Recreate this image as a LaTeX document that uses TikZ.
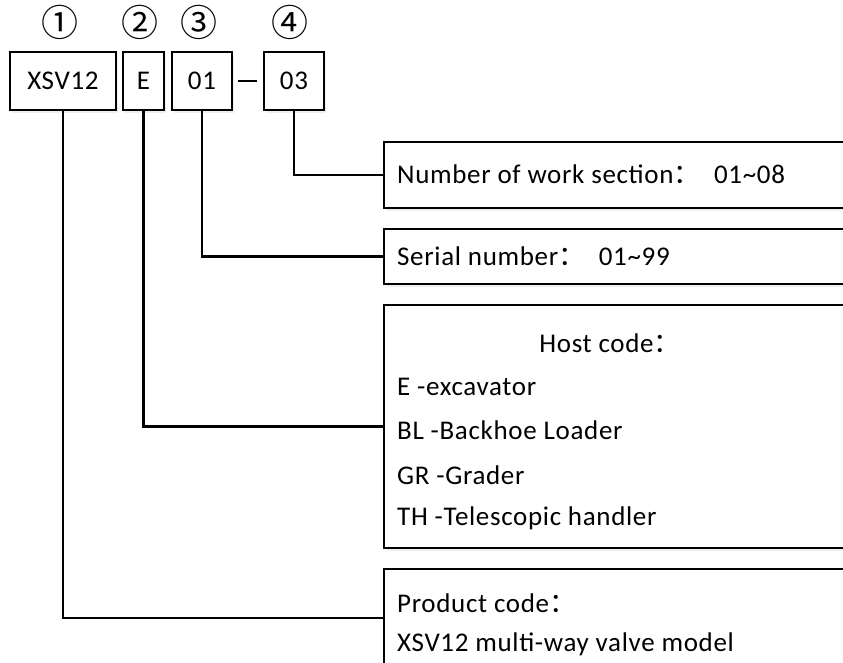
\documentclass[tikz,border=0pt]{standalone}
\usepackage{fontspec}
\setmainfont{Carlito}[LetterSpace=2.5]
\newfontfamily\cjk{Noto Sans CJK SC}
\usetikzlibrary{shadows}
\newcommand{\fcolon}{{\cjk ：}}
\begin{document}
\begin{tikzpicture}[x=1pt,y=-1pt,
  txtfont/.style={font=\fontsize{27}{32}\selectfont},
  box/.style={draw, line width=2pt, fill=white,
    drop shadow={opacity=0.12, shadow xshift=2pt, shadow yshift=-3pt}},
  codebox/.style={box, txtfont, minimum height=58pt, inner sep=0pt},
  infobox/.style={box, anchor=north west, minimum width=560pt, inner sep=0pt},
  lbl/.style={txtfont, anchor=base west, inner sep=0pt},
  num/.style={font=\cjk\fontsize{37}{37}\selectfont, inner sep=0pt},
  wire/.style={line width=2.2pt}]
\useasboundingbox (0,0) rectangle (843,663);
\clip (0,0) rectangle (843,663);
\fill[white] (0,0) rectangle (843,663);

% code boxes
\node[codebox, minimum width=106pt] (c1) at (63,81) {XSV12};
\node[codebox, minimum width=41pt] (c2) at (143.5,81) {E};
\node[codebox, minimum width=60pt] (c3) at (202,81) {01};
\node[codebox, minimum width=60pt] (c4) at (294,81) {03};

% circled numbers
\node[num] (n1) at (59.5,22) {①};
\node[num] (n2) at (140,22) {②};
\node[num] (n3) at (199,22) {③};
\node[num] (n4) at (290,22) {④};

% info boxes
\node[infobox, minimum height=66pt] (r4) at (383,141) {};
\node[infobox, minimum height=55pt] (r3) at (383,228) {};
\node[infobox, minimum height=243pt] (r2) at (383,304) {};
\node[infobox, minimum height=98pt] (r1) at (383,568) {};

% connectors
\draw[wire, shorten <=5pt, shorten >=6pt] (c3.east) -- (c4.west);
\draw[wire] (c4.south) |- (r4.west);
\draw[wire] (c3.south) |- (r3.west);
\draw[wire] (c2.south) |- (r2.west);
\draw[wire] (c1.south) |- (r1.west);

% texts
\node[lbl] (t4) at (397,184) {Number of work section\fcolon\ \ 01\textasciitilde08};
\node[lbl] (t3) at (397,265) {Serial number\fcolon\ \ 01\textasciitilde99};
\node[txtfont, anchor=base, inner sep=0pt] (h0) at (610,352) {Host code\fcolon};
\node[lbl] (h1) at (397,395) {E -excavator};
\node[lbl] (h2) at (397,439) {BL -Backhoe Loader};
\node[lbl] (h3) at (397,484) {GR -Grader};
\node[lbl] (h4) at (397,525) {TH -Telescopic handler};
\node[lbl] (p1) at (397,612) {Product code\fcolon};
\node[lbl] (p2) at (397,651) {XSV12 multi-way valve model};
\end{tikzpicture}
\end{document}
